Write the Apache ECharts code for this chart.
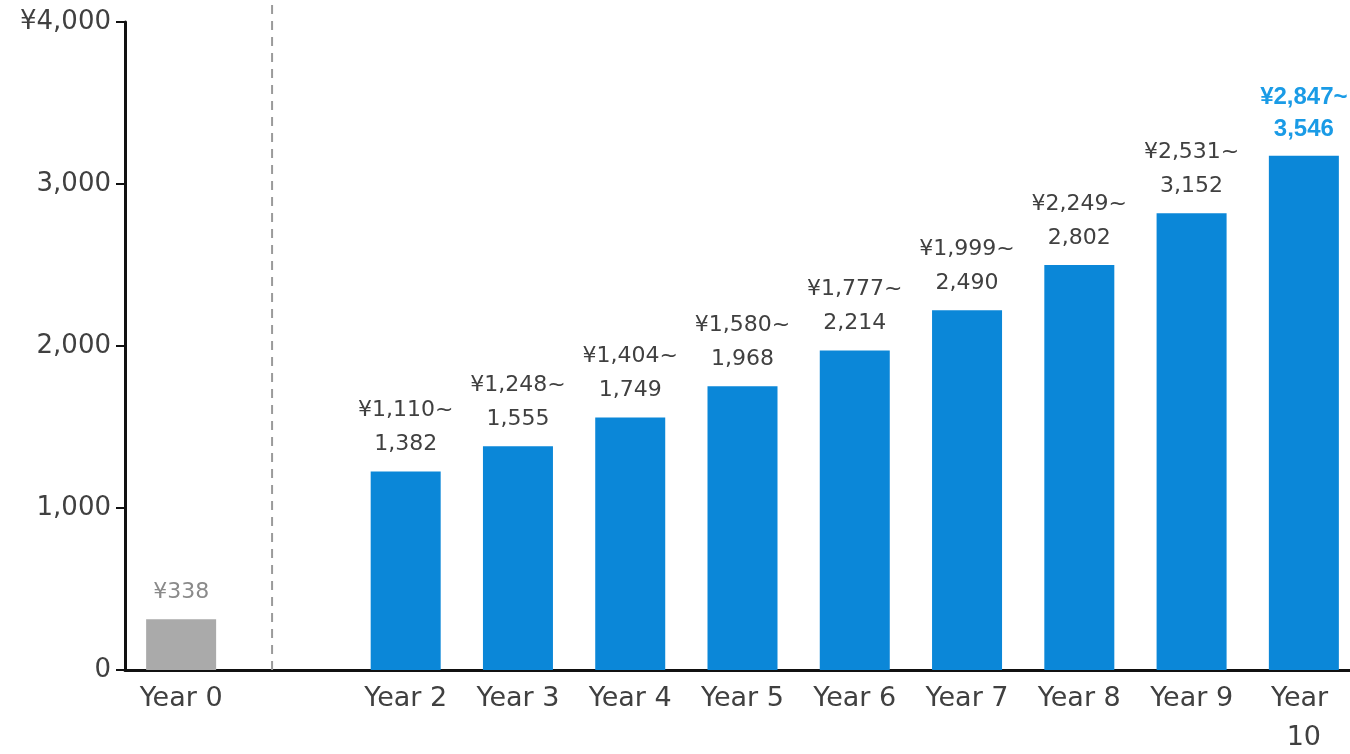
<!DOCTYPE html>
<html>
<head>
<meta charset="utf-8">
<style>
html,body{margin:0;padding:0;background:#fff;}
#chart{width:1350px;height:754px;}
</style>
<script src="https://cdn.jsdelivr.net/npm/echarts@6/dist/echarts.min.js"></script>
</head>
<body>
<div id="chart"></div>
<script>
const categories = ['Year 0', '', 'Year 2', 'Year 3', 'Year 4', 'Year 5', 'Year 6', 'Year 7', 'Year 8', 'Year 9', 'Year 10'];
const barValues = [313, null, 1226, 1381, 1558, 1752, 1972, 2221, 2500, 2819, 3174];
const rangeLow = [338, null, 1110, 1248, 1404, 1580, 1777, 1999, 2249, 2531, 2847];
const rangeHigh = [null, null, 1382, 1555, 1749, 1968, 2214, 2490, 2802, 3152, 3546];
const yTicks = [0, 1000, 2000, 3000, 4000];
const separatorPos = 0.81; // in category-index units, between Year 0 and Year 2

const FONT = '"DejaVu Sans", sans-serif';
const BOLD_FONT = '"Liberation Sans", Arial, sans-serif';
const fmt = v => v.toLocaleString('en-US');

const barData = barValues.map((v, i) => {
  if (v === null) return null;
  const isFirst = i === 0;
  const isLast = i === barValues.length - 1;
  return {
    value: v,
    itemStyle: { color: isFirst ? '#aaaaaa' : '#0b87d8' },
    label: {
      show: true,
      position: 'top',
      distance: 10,
      fontFamily: isLast ? BOLD_FONT : FONT,
      fontSize: isLast ? 24 : 22,
      lineHeight: isLast ? 32 : 34,
      color: isFirst ? '#8a8a8a' : (isLast ? '#1a9be6' : '#404040'),
      fontWeight: isLast ? 'bold' : 'normal',
      formatter: () => rangeHigh[i] === null ? '¥' + fmt(rangeLow[i]) : '¥' + fmt(rangeLow[i]) + '~\n' + fmt(rangeHigh[i])
    }
  };
});

const chart = echarts.init(document.getElementById('chart'));
chart.setOption({
  animation: false,
  grid: [
    { left: 125, width: 1235, top: 22, bottom: 84, containLabel: false, outerBoundsMode: 'none' },
    { left: 125, width: 1235, top: 0, bottom: 84, containLabel: false, outerBoundsMode: 'none' }
  ],
  xAxis: [
    {
      type: 'category',
      gridIndex: 0,
      data: categories,
      axisLine: { show: true, lineStyle: { color: '#111', width: 3 } },
      axisTick: { show: false },
      axisLabel: {
        fontFamily: FONT, fontSize: 27, color: '#404040', margin: 9,
        lineHeight: 39, width: 98, overflow: 'break', interval: 0
      },
      splitLine: { show: false }
    },
    {
      type: 'value', gridIndex: 1, min: -0.5, max: categories.length - 0.5, show: false
    }
  ],
  yAxis: [
    {
      type: 'value',
      gridIndex: 0,
      min: yTicks[0],
      max: yTicks[yTicks.length - 1],
      interval: 1000,
      axisLine: { show: true, lineStyle: { color: '#111', width: 3 } },
      axisTick: { show: true, length: 9, lineStyle: { color: '#111', width: 2 } },
      axisLabel: {
        fontFamily: FONT, fontSize: 26, color: '#404040', margin: 14,
        formatter: v => v === yTicks[yTicks.length - 1] ? '¥' + fmt(v) : fmt(v)
      },
      splitLine: { show: false }
    },
    { type: 'value', gridIndex: 1, min: 0, max: 1, show: false }
  ],
  series: [
    {
      type: 'bar',
      xAxisIndex: 0, yAxisIndex: 0,
      barWidth: 70,
      data: barData
    },
    {
      type: 'line',
      xAxisIndex: 1, yAxisIndex: 1,
      symbol: 'none',
      silent: true,
      lineStyle: { color: '#9a9a9a', width: 2, type: [9, 7] },
      data: [[separatorPos, 0], [separatorPos, 1]]
    }
  ]
});
</script>
</body>
</html>
